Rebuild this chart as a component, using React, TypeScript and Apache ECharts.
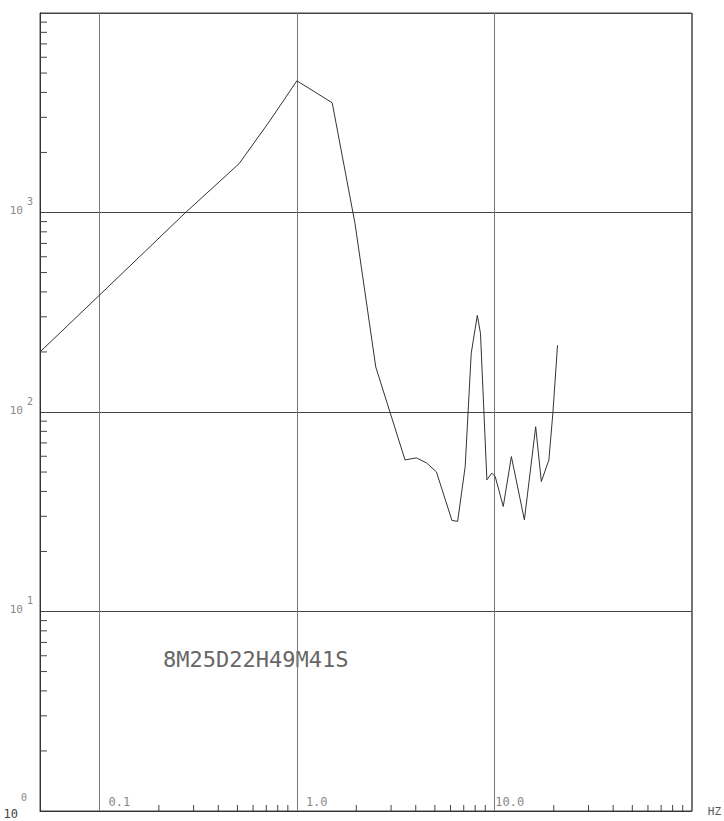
import React, { useEffect, useRef } from 'react';
import * as echarts from 'echarts';

// Spectrum (frequency in Hz, amplitude)
const freqHz = [0.05, 0.1, 0.27, 0.51, 0.73, 1.0, 1.51, 1.97, 2.51, 3.53, 4.03, 4.53, 5.09, 6.1, 6.52, 7.12, 7.64, 8.2, 8.51, 9.17, 9.71, 10.1, 11.1, 12.2, 14.2, 16.2, 17.3, 18.9, 19.8, 20.9];
const amplitude = [200, 385, 989, 1758, 2884, 4571, 3548, 881, 168, 57.5, 58.9, 55.6, 50.1, 28.6, 28.3, 53.3, 197, 305, 248, 45.7, 49.4, 47.5, 33.6, 59.8, 28.8, 84.4, 44.8, 57.5, 98.9, 216];

// Axis labels
const xDecadeValues = [0.1, 1, 10];
const xDecadeLabels = ['0.1', '1.0', '10.0'];
const yExponents = ['0', '1', '2', '3'];
const unitLabel = 'HZ';
const stampText = '8M25D22H49M41S';

// Minor tick values
const xMinorTicks = [0.2, 0.3, 0.4, 0.5, 0.6, 0.7, 0.8, 0.9, 2, 3, 4, 5, 6, 7, 8, 9, 20, 30, 40, 50, 60, 70, 80, 90];
const yMinorTicks = [2, 3, 4, 5, 6, 7, 8, 9, 20, 30, 40, 50, 60, 70, 80, 90, 200, 300, 400, 500, 600, 700, 800, 900, 2000, 3000, 4000, 5000, 6000, 7000, 8000, 9000];

const X_MIN = 0.05;
const X_MAX = 100;
const Y_MIN = 1;
const Y_MAX = 10000;

export default function App() {
  const ref = useRef<HTMLDivElement>(null);

  useEffect(() => {
    if (!ref.current) return;
    const chart = echarts.init(ref.current, null, { renderer: 'svg' });
    const labelFont = '"DejaVu Sans Mono", monospace';

    const option: any = {
      animation: false,
      backgroundColor: '#ffffff',
      grid: {
        left: 40,
        right: 30,
        top: 13,
        bottom: 10,
        show: true,
        borderColor: '#444',
        borderWidth: 1,
        backgroundColor: 'transparent',
      },
      xAxis: {
        type: 'log',
        logBase: 10,
        min: X_MIN,
        max: X_MAX,
        name: unitLabel,
        nameLocation: 'end',
        nameGap: 16,
        nameTextStyle: { fontSize: 11, color: '#555', fontFamily: labelFont, verticalAlign: 'middle', padding: [2, 0, 0, 0] },
        axisLine: { show: true, lineStyle: { color: '#333', width: 1 } },
        axisTick: { show: false },
        splitLine: { show: true, lineStyle: { color: '#777', width: 1 } },
        axisLabel: {
          inside: true,
          margin: 3,
          align: 'left',
          showMinLabel: false,
          showMaxLabel: false,
          fontFamily: labelFont,
          formatter: (v: number) => {
            const i = xDecadeValues.findIndex((d) => Math.abs(Math.log10(v) - Math.log10(d)) < 1e-6);
            if (i < 0) return '';
            return i === 2 ? `{c|${xDecadeLabels[i]}}` : `{a|${xDecadeLabels[i]}}`;
          },
          rich: {
            a: { fontSize: 12, color: '#888', fontFamily: labelFont, padding: [0, 0, 0, 9] },
            c: { fontSize: 12, color: '#888', fontFamily: labelFont, padding: [0, 0, 0, 1] },
          },
        },
      },
      yAxis: {
        type: 'log',
        logBase: 10,
        min: Y_MIN,
        max: Y_MAX,
        axisLine: { show: true, lineStyle: { color: '#333', width: 1 } },
        axisTick: { show: false },
        splitLine: { show: true, lineStyle: { color: '#444', width: 1 } },
        axisLabel: {
          margin: 7,
          showMinLabel: true,
          showMaxLabel: false,
          padding: [0, 0, 12, 0],
          formatter: (v: number) => {
            const lv = Math.log10(v);
            const k = Math.round(lv);
            if (Math.abs(lv - k) > 1e-6 || k < 0 || k > 3) return '';
            if (k === 0) return `{s0|${yExponents[0]}}\n{b0|10}`;
            return `{s|${yExponents[k]}}\n{b|10}`;
          },
          rich: {
            s: { fontSize: 10, lineHeight: 8, align: 'right', color: '#888', fontFamily: labelFont },
            b: { fontSize: 11, lineHeight: 10, align: 'right', color: '#888', fontFamily: labelFont, padding: [0, 10, 0, 0] },
            s0: { fontSize: 10, lineHeight: 18, align: 'right', color: '#888', fontFamily: labelFont, padding: [0, 6, 0, 0] },
            b0: { fontSize: 12, lineHeight: 16, align: 'right', color: '#444', fontFamily: labelFont, padding: [0, 15, 0, 0] },
          },
        },
      },
      graphic: [
        {
          type: 'text',
          left: 163,
          top: 648,
          style: {
            text: stampText,
            fontSize: 22,
            fontFamily: labelFont,
            fill: '#666',
          },
        },
      ],
      series: [
        {
          type: 'line',
          data: freqHz.map((f, i) => [f, amplitude[i]]),
          symbol: 'none',
          lineStyle: { color: '#333', width: 1 },
          z: 5,
        },
        {
          type: 'custom',
          silent: true,
          data: yMinorTicks.map((v) => [X_MIN, v]),
          encode: { x: 0, y: 1 },
          renderItem: (params: any, api: any) => {
            const p = api.coord([api.value(0), api.value(1)]);
            return {
              type: 'line',
              shape: { x1: p[0], y1: p[1], x2: p[0] + 7, y2: p[1] },
              style: { stroke: '#444', lineWidth: 1 },
            };
          },
          z: 4,
        },
        {
          type: 'custom',
          silent: true,
          data: xMinorTicks.map((v) => [v, Y_MIN]),
          encode: { x: 0, y: 1 },
          renderItem: (params: any, api: any) => {
            const p = api.coord([api.value(0), api.value(1)]);
            return {
              type: 'line',
              shape: { x1: p[0], y1: p[1], x2: p[0], y2: p[1] - 6 },
              style: { stroke: '#444', lineWidth: 1 },
            };
          },
          z: 4,
        },
      ],
    };

    chart.setOption(option);
    return () => chart.dispose();
  }, []);

  return (
    <div
      ref={ref}
      style={{ position: 'absolute', left: 0, top: 0, width: 724, height: 821, background: '#fff' }}
    />
  );
}
